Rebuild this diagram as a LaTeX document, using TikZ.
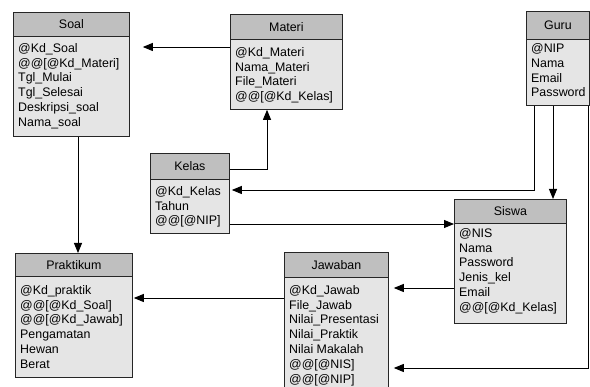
\documentclass[tikz,border=0pt]{standalone}
\usepackage{fontspec}
\setmainfont{Liberation Sans}
\usetikzlibrary{calc,arrows.meta}
\tikzset{
  headbox/.style={draw=black!85, line width=0.8pt, fill=gray!50, inner sep=0pt, font=\fontsize{12.4}{14}\selectfont},
  bodybox/.style={draw=black!85, line width=0.8pt, fill=gray!20, inner sep=0pt},
  attr/.style={inner sep=0pt, font=\fontsize{12.4}{14}\selectfont},
  arr/.style={line width=0.9pt, -{Triangle[length=10pt,width=8pt]}},
}
% name, x1, y1, x2, yh, y2, title, first baseline offset, attribute list
\newcommand\entitybox[9]{%
  \node[headbox, minimum width=#4-#2, minimum height=#5-#3, anchor=north west] (#1h) at (#2,#3) {#7};
  \node[bodybox, minimum width=#4-#2, minimum height=#6-#5, anchor=north west] (#1) at (#2,#5) {};
  \foreach \t [count=\i] in {#9}
    \node[attr, anchor=base west] (#1-\i) at ($(#1.north west)+(5,{#8+(\i-1)*14.8})$) {\t};
}
\begin{document}
\begin{tikzpicture}[x=1pt,y=-1pt]
\useasboundingbox (0,0) rectangle (590,387);
\entitybox{soal}{13}{12}{129}{36}{136}{Soal}{16.3}{@Kd\_Soal,@@[@Kd\_Materi],Tgl\_Mulai,Tgl\_Selesai,Deskripsi\_soal,Nama\_soal}
\entitybox{materi}{230}{14}{342}{39}{109}{Materi}{17.3}{@Kd\_Materi,Nama\_Materi,File\_Materi,@@[@Kd\_Kelas]}
\entitybox{guru}{526}{11}{589}{39}{105}{Guru}{13.5}{@NIP,Nama,Email,Password}
\entitybox{kelas}{150}{153}{229}{179}{233}{Kelas}{16.3}{@Kd\_Kelas,Tahun,@@[@NIP]}
\entitybox{siswa}{454}{199}{566}{223}{323}{Siswa}{14.3}{@NIS,Nama,Password,Jenis\_kel,Email,@@[@Kd\_Kelas]}
\entitybox{praktikum}{15}{253}{132}{276}{377}{Praktikum}{18.3}{@Kd\_praktik,@@[@Kd\_Soal],@@[@Kd\_Jawab],Pengamatan,Hewan,Berat}
\entitybox{jawaban}{284}{252}{388}{277}{392}{Jawaban}{17.3}{@Kd\_Jawab,File\_Jawab,Nilai\_Presentasi,Nilai\_Praktik,Nilai Makalah,@@[@NIS],@@[@NIP]}

% connectors
\draw[arr] ($(materi.north west)+(0,8)$) -- ($(soal.north east)+(13,11)$);
\draw[arr] ($(kelash.east)+(0,3)$) -| ($(materi.south west)+(37,0)$);
\draw[arr] ($(guru.south west)+(8,0)$) |- ($(kelas.north east)+(2,11)$);
\draw[arr] ($(kelas.north east)+(0,45)$) -- ($(siswa.north west)+(0,1)$);
\draw[arr] ($(guru.south west)+(27,0)$) -- ($(siswah.north west)+(99,0)$);
\draw[arr] ($(siswa.north west)+(0,65)$) -- ($(jawaban.north east)+(5,11)$);
\draw[arr] ($(jawaban.north west)+(0,21)$) -- ($(praktikum.north east)+(1,22)$);
\draw[arr] ($(guru.south east)+(-1,0)$) |- ($(jawaban.north east)+(5,91)$);
\draw[arr] ($(soal.south west)+(65,0)$) -- ($(praktikumh.north west)+(63,0)$);
\end{tikzpicture}
\end{document}
